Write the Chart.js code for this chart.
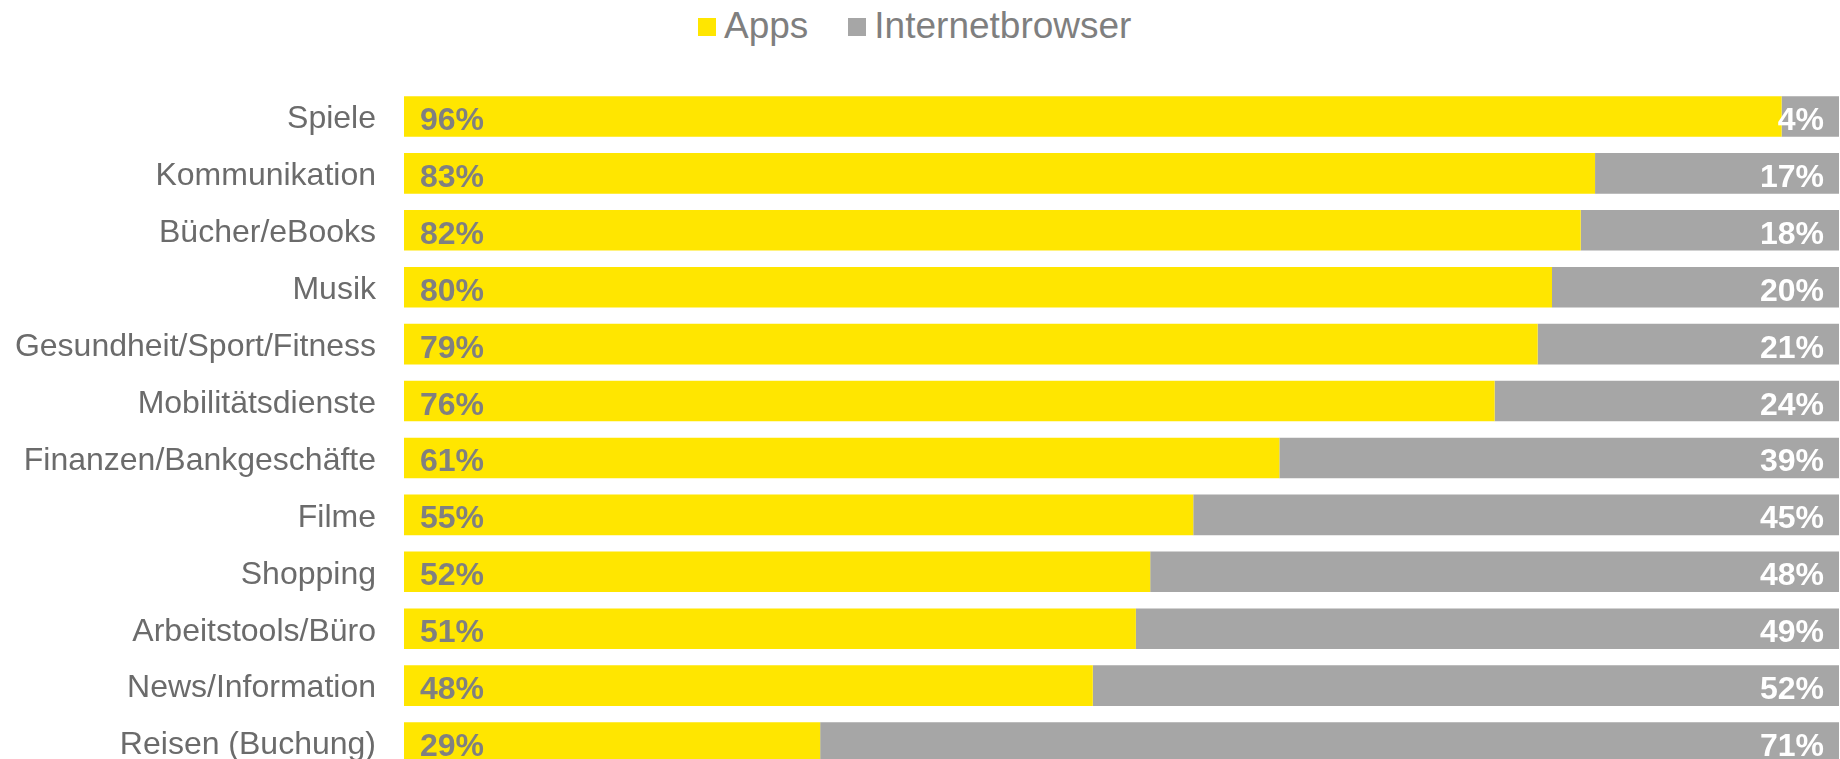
<!DOCTYPE html>
<html lang="de">
<head>
<meta charset="utf-8" />
<title>Apps vs. Internetbrowser</title>
<script src="https://cdn.jsdelivr.net/npm/chart.js@4/dist/chart.umd.min.js"></script>
<style>
  html, body {
    margin: 0;
    padding: 0;
    width: 1840px;
    height: 759px;
    overflow: hidden;
    background: #fff;
    font-family: "Liberation Sans", Arial, sans-serif;
  }
  #legend {
    position: absolute;
    left: 698px;
    top: 7px;
    display: flex;
    align-items: center;
    height: 37px;
    font-size: 37px;
    line-height: 37px;
    color: #7f7f7f;
  }
  .legend-item {
    display: flex;
    align-items: center;
    margin-right: 40px;
  }
  .legend-box {
    width: 18px;
    height: 18px;
    margin-right: 8px;
    margin-top: 2px;
  }
  #wrap {
    position: absolute;
    left: 0;
    top: 0;
    width: 1840px;
    height: 771px;
  }
</style>
</head>
<body>
<div id="legend"></div>
<div id="wrap"><canvas id="chart" width="1840" height="771"></canvas></div>
<script>
// Kategorien von oben nach unten
const categories = [
  "Spiele",
  "Kommunikation",
  "Bücher/eBooks",
  "Musik",
  "Gesundheit/Sport/Fitness",
  "Mobilitätsdienste",
  "Finanzen/Bankgeschäfte",
  "Filme",
  "Shopping",
  "Arbeitstools/Büro",
  "News/Information",
  "Reisen (Buchung)",
];

const appsValues = [96, 83, 82, 80, 79, 76, 61, 55, 52, 51, 48, 29];
const browserValues = [4, 17, 18, 20, 21, 24, 39, 45, 48, 49, 52, 71];

const seriesNames = ["Apps", "Internetbrowser"];

const YELLOW = "#FFE600";
const GREY = "#A6A6A6";
const FONT = "'Liberation Sans', Arial, sans-serif";

// Prozentwerte in die Balken schreiben (Apps links, Browser rechts)
const valueLabels = {
  id: "valueLabels",
  afterDatasetsDraw(chart) {
    const ctx = chart.ctx;
    ctx.save();
    ctx.font = `bold 32px ${FONT}`;
    ctx.textBaseline = "alphabetic";
    chart.data.datasets.forEach((ds, di) => {
      const meta = chart.getDatasetMeta(di);
      meta.data.forEach((bar, i) => {
        const txt = `${ds.data[i]}%`;
        if (di === 0) {
          ctx.textAlign = "left";
          ctx.fillStyle = "#808080";
          ctx.fillText(txt, bar.base + 16, bar.y + 13.5);
        } else {
          ctx.textAlign = "right";
          ctx.fillStyle = "#ffffff";
          ctx.fillText(txt, bar.x - 15, bar.y + 13.5);
        }
      });
    });
    ctx.restore();
  },
};

function renderLegend(chart) {
  const el = document.getElementById("legend");
  el.innerHTML = "";
  chart.data.datasets.forEach((ds) => {
    const item = document.createElement("div");
    item.className = "legend-item";
    const box = document.createElement("span");
    box.className = "legend-box";
    box.style.background = ds.backgroundColor;
    const txt = document.createElement("span");
    txt.textContent = ds.label;
    item.appendChild(box);
    item.appendChild(txt);
    el.appendChild(item);
  });
}

const chart = new Chart(document.getElementById("chart"), {
  type: "bar",
  data: {
    labels: categories,
    datasets: [
      {
        label: seriesNames[0],
        data: appsValues,
        backgroundColor: YELLOW,
        borderWidth: 0,
        categoryPercentage: 1,
        barPercentage: 0.712,
      },
      {
        label: seriesNames[1],
        data: browserValues,
        backgroundColor: GREY,
        borderWidth: 0,
        categoryPercentage: 1,
        barPercentage: 0.712,
      },
    ],
  },
  options: {
    indexAxis: "y",
    responsive: false,
    devicePixelRatio: 1,
    animation: false,
    layout: { padding: { top: 88, right: 1, bottom: 0, left: 0 } },
    plugins: {
      legend: { display: false },
      tooltip: { enabled: false },
    },
    scales: {
      x: {
        stacked: true,
        min: 0,
        max: 100,
        display: false,
      },
      y: {
        stacked: true,
        grid: { display: false, drawTicks: false },
        border: { display: false },
        ticks: {
          color: "#6b6b6b",
          padding: 28,
          labelOffset: 3,
          font: { family: FONT, size: 32 },
        },
        afterFit(scale) {
          scale.width = 404;
          // tick padding nicht vertikal anrechnen
          scale.paddingTop = 0;
          scale.paddingBottom = 0;
        },
      },
    },
  },
  plugins: [valueLabels],
});

renderLegend(chart);
</script>
</body>
</html>
